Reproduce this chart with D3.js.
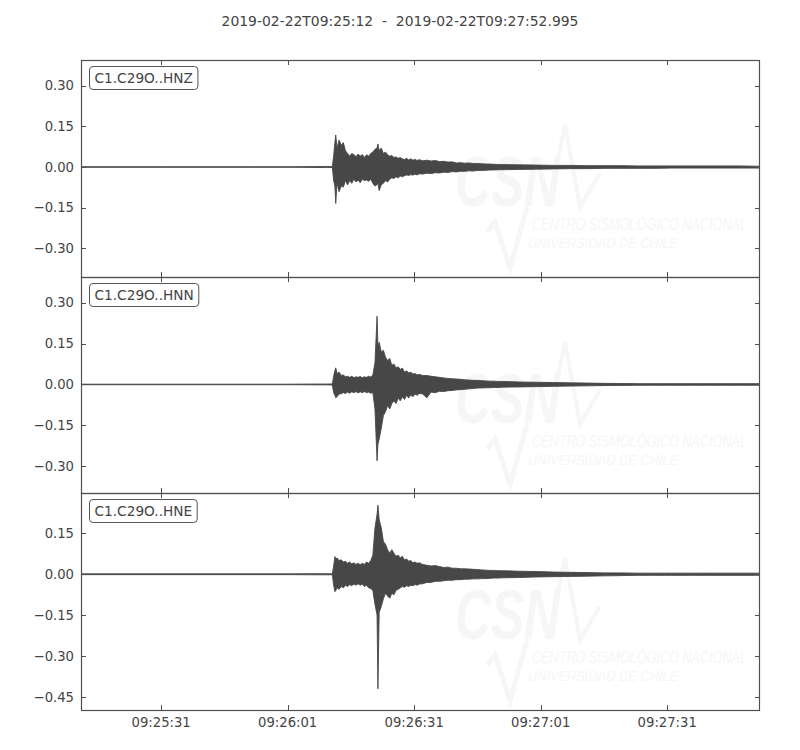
<!DOCTYPE html>
<html>
<head>
<meta charset="utf-8">
<script src="https://cdn.jsdelivr.net/npm/d3@7"></script>
<style>
  html, body { margin: 0; padding: 0; background: #fff; }
  svg { display: block; }
</style>
</head>
<body>
<svg id="chart" width="800" height="750"></svg>
<script>
// ---------------- DATA ----------------
const titleText = "2019-02-22T09:25:12  -  2019-02-22T09:27:52.995";
const traceLabels = ["C1.C29O..HNZ", "C1.C29O..HNN", "C1.C29O..HNE"];
const totalSeconds = 160.995;
const xTickSeconds = [19, 49, 79, 109, 139];
const xTickLabels = ["09:25:31", "09:26:01", "09:26:31", "09:27:01", "09:27:31"];
const yTicksHNZ = [0.30, 0.15, 0.00, -0.15, -0.30];
const yTicksHNN = [0.30, 0.15, 0.00, -0.15, -0.30];
const yTicksHNE = [0.15, 0.00, -0.15, -0.30, -0.45];
const yLimitsHNZ = [-0.405, 0.394];
const yLimitsHNN = [-0.398, 0.394];
const yLimitsHNE = [-0.498, 0.298];

// envelope sample times (seconds after 09:25:12)
const timeSec = [0,20,40,50,55,58,59.6,59.9,60.2,60.4,
  60.7,61.2,61.7,62.2,62.7,63.2,63.7,64.2,64.7,65.2,
  65.7,66.2,66.7,67.2,67.7,68.2,68.7,69.2,69.7,70.2,
  70.4,
  70.7,71.2,71.7,72.2,72.7,73.2,73.7,74.2,74.7,75.2,
  75.7,76.2,76.7,77.2,77.7,78.2,78.7,79.2,79.7,80.2,
  81,82,83,84,85,86,87,88,89,90,91,92,93,94,95,96,97,98,99,100,
  104,108,112,116,120,124,128,132,136,140,144,148,152,156,160,
  161];

// HNZ envelope
const hnzUpper = [0.001,0.001,0.001,0.001,0.0015,0.002,0.002,0.04,0.09,0.118,
  0.07,0.099,0.08,0.09,0.06,0.05,0.04,0.05,0.045,0.038,
  0.048,0.04,0.046,0.035,0.045,0.04,0.05,0.055,0.065,0.07,
  0.085,
  0.06,0.07,0.05,0.055,0.045,0.04,0.042,0.035,0.037,0.032,
  0.035,0.03,0.028,0.032,0.026,0.03,0.025,0.028,0.024,0.027,
  0.023,0.025,0.022,0.024,0.02,0.021,0.018,0.019,0.015,0.016,0.014,0.015,0.013,0.013,0.012,0.011,0.011,0.01,0.009,0.009,
  0.008,0.007,0.006,0.006,0.005,0.005,0.005,0.004,0.004,0.004,0.004,0.004,0.004,0.004,0.003,
  0.003];
const hnzLower = [-0.001,-0.001,-0.001,-0.001,-0.0015,-0.002,-0.002,-0.05,-0.07,-0.134,
  -0.06,-0.091,-0.07,-0.074,-0.05,-0.066,-0.05,-0.06,-0.045,-0.055,
  -0.048,-0.058,-0.045,-0.05,-0.048,-0.052,-0.045,-0.06,-0.07,-0.065,
  -0.06,
  -0.087,-0.065,-0.06,-0.05,-0.055,-0.045,-0.04,-0.042,-0.036,-0.04,
  -0.033,-0.036,-0.032,-0.029,-0.031,-0.028,-0.03,-0.026,-0.029,-0.025,
  -0.026,-0.023,-0.024,-0.021,-0.022,-0.019,-0.02,-0.017,-0.018,-0.016,-0.016,-0.014,-0.015,-0.013,-0.013,-0.012,-0.011,-0.011,-0.01,-0.01,
  -0.009,-0.008,-0.007,-0.006,-0.006,-0.005,-0.005,-0.005,-0.005,-0.004,-0.004,-0.004,-0.004,-0.004,-0.004,
  -0.004];

// HNN envelope
const hnnUpper = [0.001,0.001,0.001,0.001,0.0015,0.0015,0.002,0.03,0.05,0.061,
  0.04,0.045,0.033,0.035,0.028,0.03,0.026,0.03,0.025,0.028,
  0.026,0.029,0.025,0.028,0.026,0.03,0.027,0.035,0.08,0.25,
  0.14,
  0.155,0.119,0.125,0.1,0.088,0.095,0.07,0.075,0.06,0.065,
  0.055,0.06,0.045,0.05,0.042,0.045,0.038,0.04,0.035,0.037,
  0.033,0.033,0.03,0.028,0.026,0.024,0.022,0.021,0.02,0.019,0.017,0.016,0.015,0.015,0.014,0.013,0.012,0.012,0.011,0.011,
  0.009,0.008,0.007,0.006,0.005,0.004,0.0035,0.003,0.003,0.003,0.003,0.003,0.003,0.003,0.003,
  0.003];
const hnnLower = [-0.001,-0.001,-0.001,-0.001,-0.0015,-0.0015,-0.002,-0.03,-0.04,-0.049,
  -0.045,-0.035,-0.034,-0.03,-0.033,-0.028,-0.032,-0.027,-0.03,-0.026,
  -0.031,-0.027,-0.03,-0.026,-0.03,-0.028,-0.032,-0.03,-0.09,-0.28,
  -0.22,
  -0.2,-0.16,-0.114,-0.1,-0.077,-0.09,-0.07,-0.06,-0.07,-0.05,
  -0.06,-0.045,-0.055,-0.04,-0.05,-0.038,-0.045,-0.035,-0.04,-0.033,
  -0.035,-0.049,-0.028,-0.03,-0.025,-0.026,-0.023,-0.022,-0.02,-0.019,-0.018,-0.016,-0.015,-0.013,-0.013,-0.012,-0.012,-0.011,-0.011,-0.01,
  -0.009,-0.008,-0.007,-0.006,-0.005,-0.004,-0.0035,-0.003,-0.003,-0.003,-0.003,-0.003,-0.003,-0.003,-0.003,
  -0.003];

// HNE envelope
const hneUpper = [0.0015,0.0015,0.0015,0.0015,0.002,0.002,0.002,0.03,0.065,0.055,
  0.06,0.05,0.053,0.045,0.048,0.04,0.045,0.038,0.042,0.036,
  0.04,0.035,0.04,0.036,0.045,0.04,0.05,0.07,0.17,0.22,
  0.253,
  0.2,0.17,0.12,0.11,0.09,0.077,0.09,0.077,0.066,0.07,
  0.06,0.066,0.052,0.056,0.048,0.05,0.042,0.045,0.04,0.042,
  0.036,0.033,0.03,0.032,0.028,0.025,0.026,0.022,0.022,0.02,0.02,0.019,0.018,0.017,0.016,0.015,0.014,0.014,0.013,0.013,
  0.011,0.01,0.008,0.007,0.006,0.005,0.005,0.004,0.004,0.004,0.004,0.004,0.004,0.004,0.004,
  0.004];
const hneLower = [-0.0015,-0.0015,-0.0015,-0.0015,-0.002,-0.002,-0.002,-0.04,-0.064,-0.06,
  -0.05,-0.055,-0.045,-0.05,-0.04,-0.045,-0.038,-0.042,-0.036,-0.04,
  -0.035,-0.04,-0.036,-0.045,-0.04,-0.05,-0.052,-0.06,-0.11,-0.15,
  -0.42,
  -0.14,-0.118,-0.09,-0.07,-0.08,-0.088,-0.07,-0.075,-0.059,-0.055,
  -0.05,-0.045,-0.048,-0.042,-0.045,-0.04,-0.042,-0.038,-0.04,-0.036,
  -0.035,-0.03,-0.03,-0.026,-0.026,-0.024,-0.022,-0.022,-0.02,-0.02,-0.018,-0.018,-0.017,-0.017,-0.016,-0.016,-0.015,-0.014,-0.014,-0.013,
  -0.012,-0.01,-0.009,-0.008,-0.007,-0.006,-0.005,-0.004,-0.004,-0.004,-0.004,-0.004,-0.004,-0.004,-0.004,
  -0.004];

// ---------------- DRAWING ----------------
const svg = d3.select("#chart");
const frameColor = "#505050";
const textColor = "#444444";
const waveColor = "#474747";
const watermarkColor = "#f6f6f6";
const fontFamily = "'DejaVu Sans', sans-serif";
const narrowFont = "'Liberation Sans Narrow', 'Liberation Sans', sans-serif";

const plotLeft = 81, plotRight = 760;
const panelTops = [60, 277, 493];
const panelBottoms = [277, 493, 710];

const x = d3.scaleLinear().domain([0, totalSeconds]).range([plotLeft, plotRight]);

svg.append("text")
  .attr("x", 400).attr("y", 26)
  .attr("text-anchor", "middle")
  .attr("font-family", fontFamily).attr("font-size", 13.9)
  .attr("fill", textColor)
  .attr("xml:space", "preserve")
  .style("white-space", "pre")
  .text(titleText);

const traces = [
  { label: traceLabels[0], up: hnzUpper, lo: hnzLower, ticks: yTicksHNZ, lim: yLimitsHNZ },
  { label: traceLabels[1], up: hnnUpper, lo: hnnLower, ticks: yTicksHNN, lim: yLimitsHNN },
  { label: traceLabels[2], up: hneUpper, lo: hneLower, ticks: yTicksHNE, lim: yLimitsHNE }
];

const fmt = v => d3.format(".2f")(v).replace("-", "\u2212");

// squeeze a text horizontally to a target width using a transform
function fitText(sel, x0, targetW) {
  const w = sel.node().getComputedTextLength();
  const k = w > 0 ? targetW / w : 1;
  sel.attr("x", 0).attr("transform", `translate(${x0},0) scale(${k},1)`);
}

traces.forEach((tr, i) => {
  const top = panelTops[i], bottom = panelBottoms[i];
  const y = d3.scaleLinear().domain(tr.lim).range([bottom, top]);
  const g = svg.append("g");

  // watermark (faint CSN logo)
  const wm = g.append("g").attr("fill", "none");
  const dy = top - 60;
  const t1 = wm.append("text")
    .attr("y", 206 + dy)
    .attr("font-family", narrowFont)
    .attr("font-style", "italic").attr("font-weight", "bold")
    .attr("font-size", 70).attr("fill", watermarkColor)
    .text("CSN");
  fitText(t1, 455, 105);
  wm.append("path")
    .attr("d", `M548,${206+dy} L565,${125+dy} L580,${207+dy} L600,${173+dy}`)
    .attr("stroke", watermarkColor).attr("stroke-width", 4);
  wm.append("path")
    .attr("d", `M487,${232+dy} L495,${222+dy} L510,${268+dy} L527,${207+dy}`)
    .attr("stroke", watermarkColor).attr("stroke-width", 5);
  const t2 = wm.append("text")
    .attr("y", 230 + dy)
    .attr("font-family", narrowFont)
    .attr("font-style", "italic").attr("font-size", 17).attr("fill", watermarkColor)
    .text("CENTRO SISMOLÓGICO NACIONAL");
  fitText(t2, 532, 215);
  const t3 = wm.append("text")
    .attr("y", 248 + dy)
    .attr("font-family", narrowFont)
    .attr("font-style", "italic").attr("font-size", 15).attr("fill", watermarkColor)
    .text("UNIVERSIDAD DE CHILE");
  fitText(t3, 528, 150);

  // clip
  const clipId = "clip" + i;
  svg.append("clipPath").attr("id", clipId)
    .append("rect").attr("x", plotLeft).attr("y", top)
    .attr("width", plotRight - plotLeft).attr("height", bottom - top);

  const n = Math.min(timeSec.length, tr.up.length, tr.lo.length);
  const pts = d3.range(n).map(k => ({ t: timeSec[k], hi: tr.up[k], lo: tr.lo[k] }));

  const area = d3.area()
    .x(d => x(d.t))
    .y0(d => y(d.lo))
    .y1(d => y(d.hi))
    .curve(d3.curveLinear);

  g.append("path")
    .datum(pts)
    .attr("clip-path", `url(#${clipId})`)
    .attr("d", area)
    .attr("fill", waveColor)
    .attr("stroke", waveColor)
    .attr("stroke-width", 0.9)
    .attr("stroke-linejoin", "miter");

  // frame
  g.append("rect")
    .attr("x", plotLeft + 0.5).attr("y", top + 0.5)
    .attr("width", plotRight - plotLeft - 1).attr("height", bottom - top)
    .attr("fill", "none").attr("stroke", frameColor).attr("stroke-width", 1.2);

  // y ticks (inward, both sides)
  const tickLen = 5;
  tr.ticks.forEach(v => {
    const yy = Math.round(y(v)) + 0.5;
    g.append("line").attr("x1", plotLeft).attr("x2", plotLeft + tickLen)
      .attr("y1", yy).attr("y2", yy).attr("stroke", frameColor);
    g.append("line").attr("x1", plotRight - tickLen).attr("x2", plotRight)
      .attr("y1", yy).attr("y2", yy).attr("stroke", frameColor);
    g.append("text")
      .attr("x", 74).attr("y", y(v))
      .attr("dy", "0.36em")
      .attr("text-anchor", "end")
      .attr("font-family", fontFamily).attr("font-size", 13.2)
      .attr("fill", textColor)
      .text(fmt(v));
  });

  // x ticks (inward, top & bottom)
  xTickSeconds.forEach((s, k) => {
    const xx = Math.round(x(s)) + 0.5;
    g.append("line").attr("x1", xx).attr("x2", xx)
      .attr("y1", top).attr("y2", top + tickLen).attr("stroke", frameColor);
    g.append("line").attr("x1", xx).attr("x2", xx)
      .attr("y1", bottom - tickLen).attr("y2", bottom).attr("stroke", frameColor);
    if (i === traces.length - 1) {
      g.append("text")
        .attr("x", x(s)).attr("y", bottom + 17)
        .attr("text-anchor", "middle")
        .attr("font-family", fontFamily).attr("font-size", 13.2)
        .attr("fill", textColor)
        .text(xTickLabels[k]);
    }
  });

  // label box
  const lbl = g.append("g");
  const txt = lbl.append("text")
    .attr("x", 94.5).attr("y", top + 22.5)
    .attr("font-family", fontFamily).attr("font-size", 13.7)
    .attr("fill", textColor)
    .text(tr.label);
  const bb = txt.node().getBBox();
  lbl.insert("rect", "text")
    .attr("x", 89.5).attr("y", top + 6.5)
    .attr("width", bb.width + 10).attr("height", 23)
    .attr("rx", 3.5).attr("ry", 3.5)
    .attr("fill", "#fff").attr("stroke", "#555").attr("stroke-width", 1);
});
</script>
</body>
</html>
